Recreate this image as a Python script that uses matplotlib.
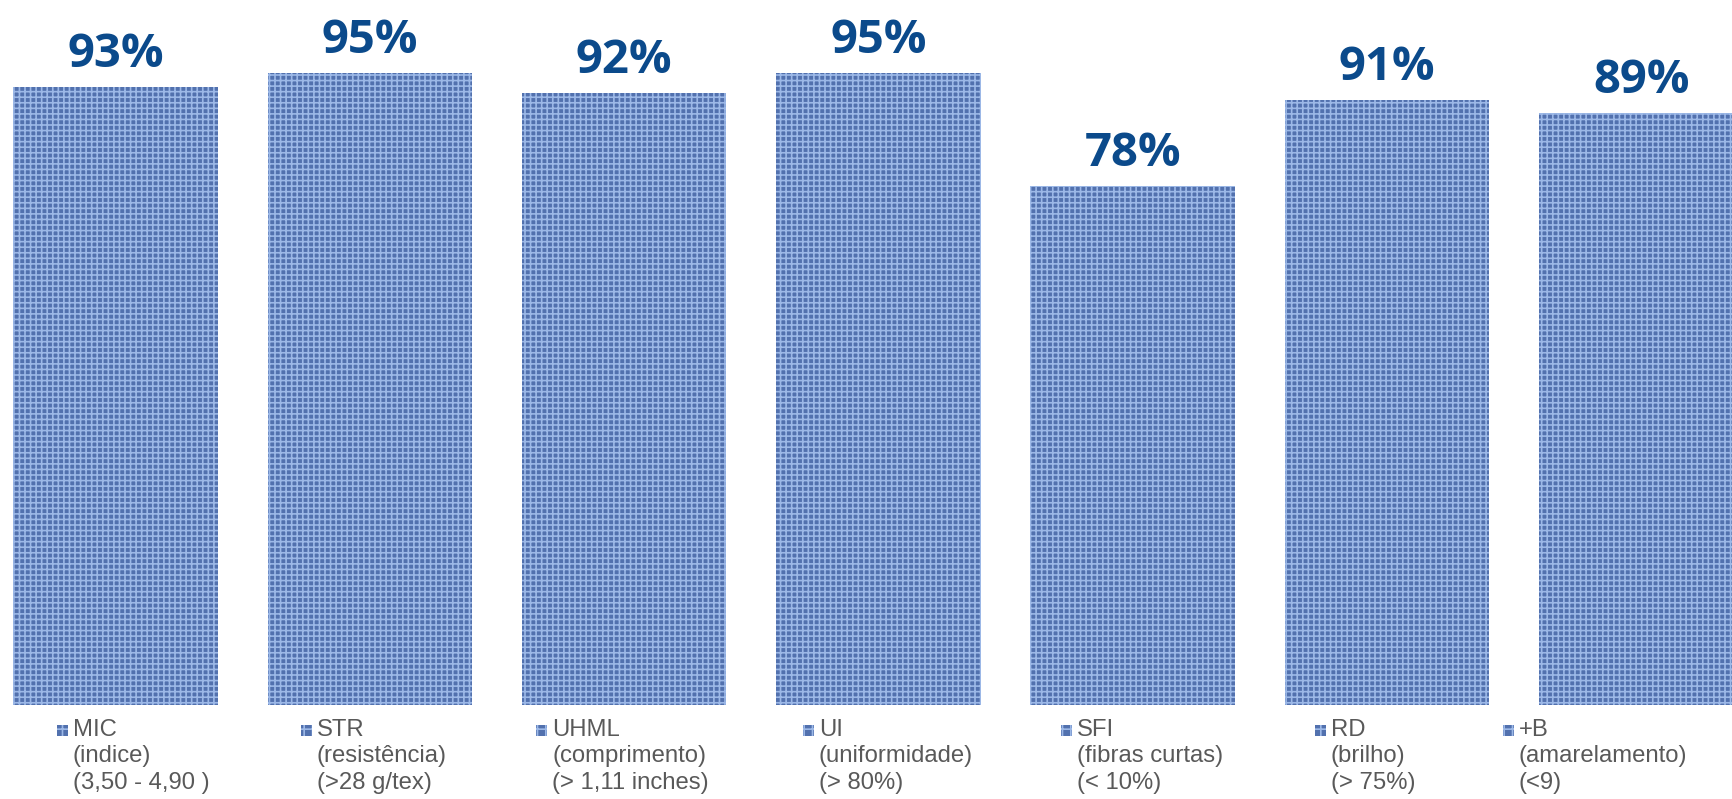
import matplotlib
matplotlib.use("Agg")
import matplotlib.pyplot as plt
from matplotlib.patches import Rectangle

# data
codes = ["MIC", "STR", "UHML", "UI", "SFI", "RD", "+B"]
descriptions = ["(indice)", "(resistência)", "(comprimento)", "(uniformidade)",
                "(fibras curtas)", "(brilho)", "(amarelamento)"]
limits = ["(3,50 - 4,90 )", "(>28 g/tex)", "(> 1,11 inches)", "(> 80%)",
          "(< 10%)", "(> 75%)", "(<9)"]
values = [93, 95, 92, 95, 78, 91, 89]

# layout: left edge of each legend entry, in figure pixels
legend_x = [57, 301, 536, 803, 1061, 1315, 1503]

W, H = 1733, 799
fig = plt.figure(figsize=(W / 100, H / 100), dpi=100)
ax = fig.add_axes([0, 94 / H, 1, 665 / H])

plt.rcParams['hatch.linewidth'] = 1.2
pitch = 254.3
xmin = -115.5 / pitch
ax.set_xlim(xmin, xmin + W / pitch)
ax.set_ylim(0, 100)

x = list(range(len(values)))
bars = ax.bar(x, values, width=0.804, color="#5271ae", edgecolor="#9cb8e7",
              hatch="+++", linewidth=0)

for b, v in zip(bars, values):
    ax.annotate(f"{v}%", (b.get_x() + b.get_width() / 2, v),
                xytext=(0, 23.3), textcoords="offset points",
                ha="center", va="center", fontsize=34, fontweight="bold",
                family="Open Sans", color="#0b4a8b")

ax.axis("off")

# legend below the bars
for lx, c, d, l in zip(legend_x, codes, descriptions, limits):
    fig.patches.append(Rectangle((lx / W, 1 - 736 / H), 11 / W, 11 / H,
                                 transform=fig.transFigure, facecolor="#5271ae",
                                 edgecolor="#9cb8e7", hatch="++", linewidth=0))
    fig.text((lx + 16) / W, 1 - 719 / H, f"{c}\n{d}\n{l}", ha="left", va="top",
             fontsize=17.2, family="Liberation Sans", color="#595959",
             linespacing=1.25)

fig.savefig("out.png", dpi=100, facecolor="white")
